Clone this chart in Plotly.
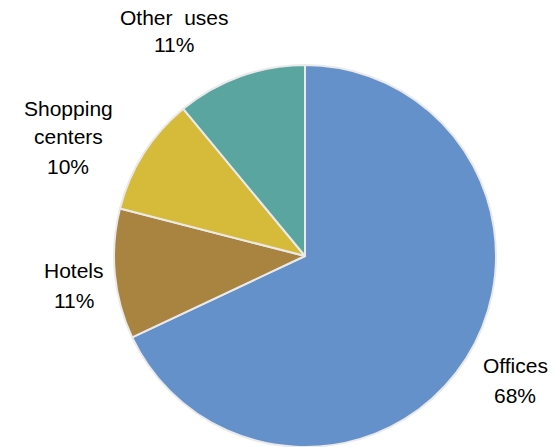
import plotly.graph_objects as go

# Floor-space split by use
categories = ["Offices", "Hotels", "Shopping centers", "Other uses"]
shares = [68, 11, 10, 11]
colors = ["#6591CB", "#A98340", "#D6BB3A", "#5BA5A0"]

# Label text lines and their placement (paper pixels, x centre / line centre y)
label_lines = {
    "Offices": ["Offices"],
    "Hotels": ["Hotels"],
    "Shopping centers": ["Shopping", "centers"],
    "Other uses": ["Other  uses"],
}
label_x = {"Offices": 515, "Hotels": 74, "Shopping centers": 68, "Other uses": 174}
label_y = {"Offices": [365, 395], "Hotels": [270, 300],
           "Shopping centers": [108, 137, 166], "Other uses": [17, 45]}

W, H = 555, 447
cx, cy, r = 305, 256, 191

fig = go.Figure(go.Pie(
    labels=categories,
    values=shares,
    sort=False,
    direction="clockwise",
    rotation=0,
    marker=dict(colors=colors, line=dict(color="#EAEAEA", width=2)),
    textinfo="none",
    hoverinfo="label+percent",
    domain=dict(x=[(cx - r) / W, (cx + r) / W],
                y=[(H - cy - r) / H, (H - cy + r) / H]),
    showlegend=False,
))

annotations = []
for cat, val in zip(categories, shares):
    lines = label_lines[cat] + [f"{val}%"]
    for txt, y in zip(lines, label_y[cat]):
        annotations.append(dict(
            text=txt, x=label_x[cat] / W, y=1 - y / H,
            xref="paper", yref="paper", xanchor="center", yanchor="middle",
            showarrow=False,
            font=dict(family="Liberation Sans, Arial, sans-serif", size=21, color="#000000"),
        ))

fig.update_layout(
    width=W, height=H,
    margin=dict(l=0, r=0, t=0, b=0),
    paper_bgcolor="white",
    plot_bgcolor="white",
    annotations=annotations,
)

fig.write_html("out.html")
